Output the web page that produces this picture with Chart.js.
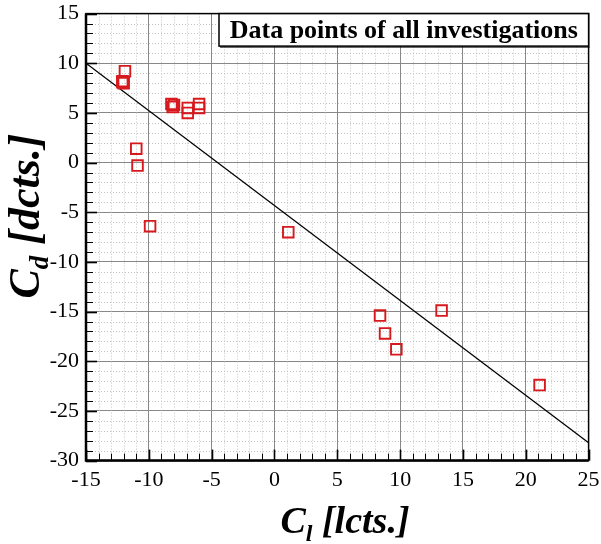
<!DOCTYPE html>
<html>
<head>
<meta charset="utf-8">
<script src="https://cdn.jsdelivr.net/npm/chart.js@4"></script>
<style>
  html, body { margin: 0; padding: 0; background: #fff; }
  #wrap { width: 601px; height: 544px; }
</style>
</head>
<body>
<div id="wrap"><canvas id="cdChart" width="601" height="544"></canvas></div>
<script>
// measured points (lift coefficient vs drag coefficient)
const clValues = [-11.9, -12.1, -12.0, -12.1, -8.2, -8.0, -8.1, -6.9, -6.9, -6.0, -6.0,
                  -11.0, -10.9, -9.9, 1.1, 8.4, 8.8, 9.7, 13.3, 21.1];
const cdValues = [9.2, 8.2, 8.0, 8.1, 5.9, 5.8, 5.6, 5.5, 5.0, 5.9, 5.5,
                  1.4, -0.3, -6.4, -7.0, -15.4, -17.2, -18.8, -14.9, -22.4];

// regression line end points
const fitX = [-15, 25];
const fitY = [10, -28.2];

// axis ranges
const xTicks = [-15, -10, -5, 0, 5, 10, 15, 20, 25];
const yTicks = [-30, -25, -20, -15, -10, -5, 0, 5, 10, 15];

const boxTitle = 'Data points of all investigations';
const serif = '"Liberation Serif", "Times New Roman", serif';

const points = clValues.map((x, i) => ({ x: x, y: cdValues[i] }));
const fitLine = fitX.map((x, i) => ({ x: x, y: fitY[i] }));

// minor grid, inward ticks, frame, titles
const decorations = {
    id: 'decorations',
    beforeDatasetsDraw(chart) {
        const { ctx, chartArea: a, scales: { x, y } } = chart;
        ctx.save();
        ctx.strokeStyle = '#c4c4c4';
        ctx.lineWidth = 1;
        ctx.setLineDash([1, 2]);
        for (let v = x.min; v <= x.max; v++) {
            if (v % 5 === 0) continue;
            const px = Math.round(x.getPixelForValue(v)) + 0.5;
            ctx.beginPath();
            ctx.moveTo(px, a.top);
            ctx.lineTo(px, a.bottom);
            ctx.stroke();
        }
        for (let v = y.min; v <= y.max; v++) {
            if (v % 5 === 0) continue;
            const py = Math.round(y.getPixelForValue(v)) + 0.5;
            ctx.beginPath();
            ctx.moveTo(a.left, py);
            ctx.lineTo(a.right, py);
            ctx.stroke();
        }
        ctx.restore();
    },
    afterDatasetsDraw(chart) {
        const { ctx, chartArea: a, scales: { x, y } } = chart;
        ctx.save();
        ctx.strokeStyle = '#000';
        for (let v = x.min; v <= x.max; v++) {
            const major = v % 5 === 0;
            const px = Math.round(x.getPixelForValue(v)) + 0.5;
            ctx.lineWidth = major ? 1.6 : 1;
            ctx.beginPath();
            ctx.moveTo(px, a.bottom);
            ctx.lineTo(px, a.bottom - (major ? 11 : 7));
            ctx.stroke();
        }
        for (let v = y.min; v <= y.max; v++) {
            const major = v % 5 === 0;
            const py = Math.round(y.getPixelForValue(v)) + 0.5;
            ctx.lineWidth = major ? 1.6 : 1;
            ctx.beginPath();
            ctx.moveTo(a.left, py);
            ctx.lineTo(a.left + (major ? 11 : 7), py);
            ctx.stroke();
        }
        // frame
        ctx.lineWidth = 1.5;
        ctx.strokeRect(a.left, a.top, a.right - a.left, a.bottom - a.top);
        ctx.lineWidth = 2.5;
        ctx.beginPath();
        ctx.moveTo(a.left, a.top);
        ctx.lineTo(a.left, a.bottom);
        ctx.lineTo(a.right, a.bottom);
        ctx.stroke();

        // title box in the top right corner
        const bx = 219, by = a.top, bw = a.right - bx, bh = 32.5;
        ctx.fillStyle = '#fff';
        ctx.fillRect(bx, by, bw, bh);
        ctx.lineWidth = 1.5;
        ctx.strokeRect(bx, by, bw, bh);
        ctx.lineWidth = 1;
        ctx.beginPath();
        ctx.moveTo(bx + 1, by + bh + 1);
        ctx.lineTo(bx + bw + 1, by + bh + 1);
        ctx.stroke();
        ctx.fillStyle = '#000';
        ctx.font = 'bold 26px ' + serif;
        ctx.textAlign = 'center';
        ctx.textBaseline = 'middle';
        ctx.fillText(boxTitle, bx + bw / 2, by + bh / 2 + 1);
        ctx.restore();
    },
    afterDraw(chart) {
        const { ctx } = chart;
        // axis title with a subscript, drawn piece by piece
        const drawTitle = (main, sub, rest, size) => {
            const big = 'italic bold ' + size + 'px ' + serif;
            const small = 'italic bold ' + Math.round(size * 0.62) + 'px ' + serif;
            ctx.font = big;
            const w1 = ctx.measureText(main).width;
            const w3 = ctx.measureText(rest).width;
            ctx.font = small;
            const w2 = ctx.measureText(sub).width;
            let cx = -(w1 + w2 + w3) / 2;
            ctx.textAlign = 'left';
            ctx.textBaseline = 'alphabetic';
            ctx.font = big;
            ctx.fillText(main, cx, 0);
            cx += w1;
            ctx.font = small;
            ctx.fillText(sub, cx, size * 0.2);
            cx += w2;
            ctx.font = big;
            ctx.fillText(rest, cx, 0);
        };
        ctx.save();
        ctx.fillStyle = '#000';
        ctx.translate(345, 533);
        drawTitle('C', 'l', ' [lcts.]', 38);
        ctx.restore();

        ctx.save();
        ctx.fillStyle = '#000';
        ctx.translate(39, 216);
        ctx.rotate(-Math.PI / 2);
        drawTitle('C', 'd', ' [dcts.]', 44);
        ctx.restore();
    }
};

new Chart(document.getElementById('cdChart'), {
    type: 'scatter',
    data: {
        datasets: [{
            label: 'Data points',
            data: points,
            pointStyle: 'rect',
            pointRadius: 7.5,
            pointHoverRadius: 7.5,
            borderColor: 'rgb(215, 25, 30)',
            backgroundColor: 'rgba(0, 0, 0, 0)',
            pointBorderWidth: 1.9
        }, {
            label: 'Fit',
            data: fitLine,
            showLine: true,
            borderColor: '#000',
            borderWidth: 1.3,
            pointRadius: 0,
            fill: false
        }]
    },
    options: {
        responsive: false,
        animation: false,
        layout: { padding: { left: 0, right: 12.4, top: 13.6, bottom: 0 } },
        plugins: {
            legend: { display: false },
            tooltip: { enabled: false }
        },
        scales: {
            x: {
                type: 'linear',
                min: xTicks[0],
                max: xTicks[xTicks.length - 1],
                afterBuildTicks: (scale) => { scale.ticks = xTicks.map(v => ({ value: v })); },
                afterFit: (scale) => {
                    scale.height = 83.4;
                    scale.paddingLeft = 0;
                    scale.paddingRight = 0;
                },
                ticks: {
                    color: '#000',
                    padding: 6,
                    maxRotation: 0,
                    font: { family: serif, size: 22 }
                },
                grid: { color: '#888888', lineWidth: 1, drawTicks: false },
                border: { display: false }
            },
            y: {
                type: 'linear',
                min: yTicks[0],
                max: yTicks[yTicks.length - 1],
                afterBuildTicks: (scale) => { scale.ticks = yTicks.map(v => ({ value: v })); },
                afterFit: (scale) => {
                    scale.width = 86;
                    scale.paddingTop = 0;
                    scale.paddingBottom = 0;
                },
                ticks: {
                    color: '#000',
                    padding: 7,
                    font: { family: serif, size: 22 }
                },
                grid: { color: '#888888', lineWidth: 1, drawTicks: false },
                border: { display: false }
            }
        }
    },
    plugins: [decorations]
});
</script>
</body>
</html>
